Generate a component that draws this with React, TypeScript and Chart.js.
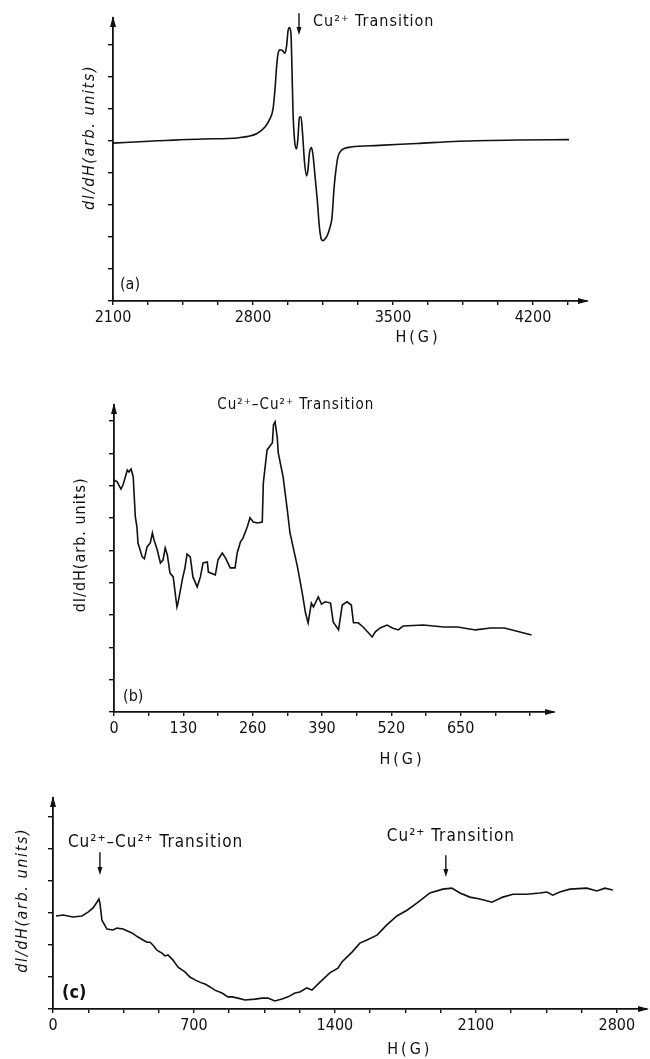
import React, { useEffect, useRef } from "react";
import { Chart, registerables } from "chart.js";

Chart.register(...registerables);

const FONT = "'DejaVu Sans Condensed', 'DejaVu Sans', sans-serif";
const INK = "#111";

// ---------- Panel (a) ----------
const A_FIELD = [2100, 2280, 2550, 2730, 2820, 2860, 2880, 2900, 2910, 2918, 2925, 2935, 2948, 2960, 2968, 2976, 2983, 2990, 2995, 3000, 3008, 3018, 3025, 3032, 3040, 3048, 3058, 3068, 3075, 3082, 3092, 3100, 3110, 3122, 3132, 3142, 3150, 3160, 3172, 3185, 3195, 3205, 3215, 3225, 3240, 3260, 3290, 3430, 3620, 3830, 4130, 4380];
const A_SIGNAL = [4.92, 4.98, 5.05, 5.09, 5.22, 5.42, 5.62, 5.98, 6.6, 7.3, 7.7, 7.83, 7.8, 7.72, 7.95, 8.45, 8.52, 8.3, 7.2, 5.9, 5.0, 4.74, 5.1, 5.72, 5.74, 5.2, 4.3, 3.9, 4.1, 4.6, 4.78, 4.55, 3.9, 3.1, 2.3, 1.92, 1.88, 1.93, 2.05, 2.3, 2.6, 3.5, 4.1, 4.5, 4.68, 4.76, 4.8, 4.85, 4.91, 4.98, 5.02, 5.03];
const A_TICK_LABELS = [2100, 2800, 3500, 4200];

// ---------- Panel (b) ----------
const B_FIELD = [0, 6, 13, 17, 25, 28, 32, 36, 40, 43, 45, 53, 57, 62, 68, 72, 75, 81, 87, 92, 96, 100, 105, 111, 118, 120, 128, 133, 137, 143, 148, 156, 162, 167, 175, 177, 190, 195, 203, 209, 218, 227, 231, 237, 242, 250, 255, 261, 269, 278, 280, 287, 297, 299, 302, 306, 308, 317, 325, 330, 344, 353, 359, 364, 370, 374, 383, 389, 396, 406, 411, 421, 428, 437, 445, 449, 458, 467, 477, 484, 490, 499, 512, 522, 533, 542, 580, 618, 644, 678, 706, 732, 783];
const B_SIGNAL = [7.18, 7.12, 6.9, 7.03, 7.49, 7.43, 7.52, 7.28, 6.04, 5.73, 5.23, 4.8, 4.74, 5.11, 5.23, 5.54, 5.33, 5.02, 4.61, 4.71, 5.08, 4.86, 4.3, 4.18, 3.25, 3.37, 4.09, 4.46, 4.89, 4.8, 4.18, 3.87, 4.18, 4.61, 4.64, 4.33, 4.24, 4.71, 4.92, 4.77, 4.46, 4.46, 4.92, 5.26, 5.39, 5.73, 6.01, 5.88, 5.85, 5.88, 7.09, 8.11, 8.33, 8.89, 8.98, 8.51, 8.02, 7.28, 6.25, 5.54, 4.49, 3.68, 3.07, 2.76, 3.37, 3.25, 3.56, 3.34, 3.41, 3.37, 2.79, 2.54, 3.31, 3.41, 3.31, 2.76, 2.76, 2.63, 2.45, 2.32, 2.48, 2.6, 2.69, 2.6, 2.54, 2.66, 2.69, 2.63, 2.63, 2.54, 2.6, 2.6, 2.38];
const B_TICK_LABELS = [0, 130, 260, 390, 520, 650];

// ---------- Panel (c) ----------
const C_FIELD = [15, 50, 99, 144, 174, 199, 218, 228, 233, 243, 268, 298, 318, 348, 392, 422, 447, 467, 482, 496, 516, 541, 556, 571, 596, 621, 655, 680, 705, 740, 755, 780, 804, 839, 869, 889, 919, 953, 1003, 1038, 1067, 1102, 1137, 1167, 1202, 1226, 1261, 1286, 1326, 1375, 1415, 1435, 1485, 1524, 1559, 1609, 1658, 1708, 1758, 1807, 1872, 1936, 1981, 2021, 2070, 2120, 2180, 2234, 2284, 2353, 2418, 2453, 2482, 2517, 2567, 2651, 2701, 2741, 2780];
const C_SIGNAL = [2.91, 2.94, 2.88, 2.91, 3.03, 3.16, 3.34, 3.44, 3.31, 2.78, 2.5, 2.47, 2.53, 2.5, 2.38, 2.25, 2.16, 2.09, 2.09, 2.0, 1.84, 1.75, 1.66, 1.69, 1.53, 1.31, 1.16, 1.0, 0.91, 0.81, 0.78, 0.69, 0.59, 0.5, 0.38, 0.38, 0.34, 0.28, 0.31, 0.34, 0.34, 0.25, 0.31, 0.38, 0.5, 0.53, 0.66, 0.59, 0.84, 1.13, 1.28, 1.47, 1.78, 2.06, 2.16, 2.31, 2.63, 2.91, 3.09, 3.31, 3.63, 3.75, 3.78, 3.63, 3.5, 3.44, 3.34, 3.5, 3.59, 3.59, 3.63, 3.66, 3.56, 3.66, 3.75, 3.78, 3.69, 3.78, 3.72];
const C_TICK_LABELS = [0, 700, 1400, 2100, 2800];

type Note = { text: string; x: number; y: number; align?: CanvasTextAlign; font: string; spacing?: string };
type Arrow = { x: number; y1: number; y2: number };

type PanelCfg = {
  top: number;
  height: number;
  field: number[];
  signal: number[];
  labels: number[];
  xMin: number;
  xMax: number;
  xStep: number;
  yMax: number;
  yTicks: number;
  leftW: number;
  padTop: number;
  padRight: number;
  xAxisH: number;
  smooth: boolean;
  yTitle: { dx: number; v: number; font: string; spacing: string };
  xTitle: { x: number; v: number };
  notes: Note[];
  arrows: Arrow[];
};

const PANELS: PanelCfg[] = [
  {
    top: 0, height: 350,
    field: A_FIELD, signal: A_SIGNAL, labels: A_TICK_LABELS,
    xMin: 2100, xMax: 4470, xStep: 175, yMax: 8.82, yTicks: 8,
    leftW: 113, padTop: 18, padRight: 63, xAxisH: 49, smooth: true,
    yTitle: { dx: -23, v: 5.1, font: `italic 16px ${FONT}`, spacing: "1.6px" },
    xTitle: { x: 3625, v: -1.15 },
    notes: [
      { text: "Cu²⁺ Transition", x: 3100, y: 8.7, align: "left", font: `16px ${FONT}`, spacing: "1px" },
      { text: "(a)", x: 2135, y: 0.5, align: "left", font: `16px ${FONT}` },
    ],
    arrows: [{ x: 3030, y1: 8.97, y2: 8.29 }],
  },
  {
    top: 380, height: 390,
    field: B_FIELD, signal: B_SIGNAL, labels: B_TICK_LABELS,
    xMin: 0, xMax: 825, xStep: 65, yMax: 9.5, yTicks: 9,
    leftW: 114, padTop: 25, padRight: 96, xAxisH: 58, smooth: false,
    yTitle: { dx: -33, v: 5.17, font: `16px ${FONT}`, spacing: "1px" },
    xTitle: { x: 540, v: -1.49 },
    notes: [
      { text: "Cu²⁺–Cu²⁺ Transition", x: 341, y: 9.5, align: "center", font: `15px ${FONT}`, spacing: "1px" },
      { text: "(b)", x: 17, y: 0.46, align: "left", font: `16px ${FONT}` },
    ],
    arrows: [],
  },
  {
    top: 775, height: 284,
    field: C_FIELD, signal: C_SIGNAL, labels: C_TICK_LABELS,
    xMin: 0, xMax: 2950, xStep: 175, yMax: 6.6, yTicks: 6,
    leftW: 53, padTop: 23, padRight: 3, xAxisH: 50, smooth: false,
    yTitle: { dx: -30, v: 3.4, font: `italic 16px ${FONT}`, spacing: "1.6px" },
    xTitle: { x: 1772, v: -1.28 },
    notes: [
      { text: "Cu²⁺–Cu²⁺ Transition", x: 74, y: 5.19, align: "left", font: `17px ${FONT}`, spacing: "1px" },
      { text: "Cu²⁺ Transition", x: 1658, y: 5.38, align: "left", font: `17px ${FONT}`, spacing: "1px" },
      { text: "(c)", x: 45, y: 0.5, align: "left", font: `bold 18px ${FONT}` },
    ],
    arrows: [
      { x: 233, y1: 4.9, y2: 4.19 },
      { x: 1951, y1: 4.81, y2: 4.13 },
    ],
  },
];

function makeDecor(p: PanelCfg) {
  return {
    id: "decor",
    afterDraw(chart: any) {
      const ctx: CanvasRenderingContext2D = chart.ctx;
      const { left, right, top, bottom } = chart.chartArea;
      const xs = chart.scales.x;
      const ys = chart.scales.y;
      ctx.save();
      ctx.fillStyle = INK;
      ctx.strokeStyle = INK;
      // axis arrowheads
      ctx.beginPath();
      ctx.moveTo(left, top - 2);
      ctx.lineTo(left - 3, top + 9);
      ctx.lineTo(left + 3, top + 9);
      ctx.closePath();
      ctx.fill();
      ctx.beginPath();
      ctx.moveTo(right + 2, bottom);
      ctx.lineTo(right - 9, bottom - 3);
      ctx.lineTo(right - 9, bottom + 3);
      ctx.closePath();
      ctx.fill();

      const txt = (s: string, x: number, y: number, font: string, align: CanvasTextAlign, spacing = "0px") => {
        ctx.font = font;
        ctx.textAlign = align;
        ctx.textBaseline = "middle";
        (ctx as any).letterSpacing = spacing;
        ctx.fillText(s, x, y);
      };

      // y title
      ctx.save();
      ctx.translate(left + p.yTitle.dx, ys.getPixelForValue(p.yTitle.v));
      ctx.rotate(-Math.PI / 2);
      txt("dI/dH(arb. units)", 0, 0, p.yTitle.font, "center", p.yTitle.spacing);
      ctx.restore();

      // x title
      txt("H(G)", xs.getPixelForValue(p.xTitle.x), ys.getPixelForValue(p.xTitle.v), `16px ${FONT}`, "center", "3px");

      // notes
      for (const n of p.notes) {
        txt(n.text, xs.getPixelForValue(n.x), ys.getPixelForValue(n.y), n.font, n.align || "left", n.spacing || "0px");
      }
      // annotation arrows
      for (const a of p.arrows) {
        const x = xs.getPixelForValue(a.x);
        const y1 = ys.getPixelForValue(a.y1);
        const y2 = ys.getPixelForValue(a.y2);
        ctx.lineWidth = 1.4;
        ctx.beginPath();
        ctx.moveTo(x, y1);
        ctx.lineTo(x, y2 - 4);
        ctx.stroke();
        ctx.beginPath();
        ctx.moveTo(x, y2);
        ctx.lineTo(x - 2.5, y2 - 8);
        ctx.lineTo(x + 2.5, y2 - 8);
        ctx.closePath();
        ctx.fill();
      }
      ctx.restore();
    },
  };
}

function buildChart(canvas: HTMLCanvasElement, p: PanelCfg) {
  const xTicks: number[] = [];
  for (let v = p.xMin; v <= p.xMax - p.xStep * 0.3; v += p.xStep) xTicks.push(v);
  const yTicks: number[] = [];
  for (let v = 0; v <= p.yTicks; v++) yTicks.push(v);
  const n = Math.min(p.field.length, p.signal.length);
  const pts = [];
  for (let i = 0; i < n; i++) pts.push({ x: p.field[i], y: p.signal[i] });

  return new Chart(canvas, {
    type: "line",
    data: {
      datasets: [
        {
          data: pts,
          borderColor: INK,
          borderWidth: 1.6,
          pointRadius: 0,
          fill: false,
          tension: p.smooth ? 0.4 : 0,
          cubicInterpolationMode: p.smooth ? "monotone" : "default",
        } as any,
      ],
    },
    options: {
      responsive: false,
      animation: false,
      layout: { padding: { top: p.padTop, right: p.padRight, left: 0, bottom: 0 } },
      plugins: { legend: { display: false }, tooltip: { enabled: false } },
      scales: {
        x: {
          type: "linear",
          min: p.xMin,
          max: p.xMax,
          afterBuildTicks: (s: any) => {
            s.ticks = xTicks.map((v) => ({ value: v }));
          },
          afterFit: (s: any) => {
            s.height = p.xAxisH;
          },
          grid: { drawOnChartArea: false, drawTicks: true, tickLength: 4, color: INK, lineWidth: 1.4 },
          border: { display: true, color: INK, width: 1.8 },
          ticks: {
            color: INK,
            autoSkip: false,
            maxRotation: 0,
            padding: 3,
            font: { family: FONT, size: 16 },
            callback: (v: any) => (p.labels.includes(Number(v)) ? String(v) : ""),
          },
        },
        y: {
          type: "linear",
          min: 0,
          max: p.yMax,
          afterBuildTicks: (s: any) => {
            s.ticks = yTicks.map((v) => ({ value: v }));
          },
          afterFit: (s: any) => {
            s.width = p.leftW;
          },
          grid: { drawOnChartArea: false, drawTicks: true, tickLength: 5, color: INK, lineWidth: 1.4 },
          border: { display: true, color: INK, width: 1.8 },
          ticks: { display: true, padding: 0, callback: () => "" },
        },
      },
    } as any,
    plugins: [makeDecor(p)],
  });
}

function Panel({ p }: { p: PanelCfg }) {
  const ref = useRef<HTMLCanvasElement | null>(null);
  useEffect(() => {
    if (!ref.current) return;
    const chart = buildChart(ref.current, p);
    return () => chart.destroy();
  }, [p]);
  return (
    <canvas
      ref={ref}
      width={650}
      height={p.height}
      style={{ position: "absolute", left: 0, top: p.top, width: 650, height: p.height }}
    />
  );
}

export default function App() {
  return (
    <div style={{ position: "absolute", left: 0, top: 0, width: 650, height: 1059, background: "#fff" }}>
      {PANELS.map((p, i) => (
        <Panel key={i} p={p} />
      ))}
    </div>
  );
}
